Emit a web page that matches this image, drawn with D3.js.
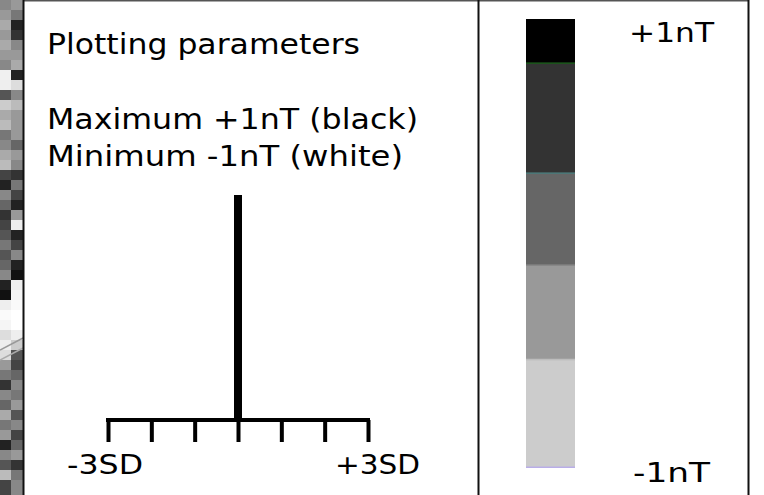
<!DOCTYPE html>
<html>
<head>
<meta charset="utf-8">
<script src="https://cdn.jsdelivr.net/npm/d3@7"></script>
<style>
  html, body { margin: 0; padding: 0; background: #fff; }
  svg { display: block; font-family: "DejaVu Sans", Verdana, sans-serif; }
</style>
</head>
<body>
<svg id="chart" width="764" height="495"></svg>
<script>
// histogram axis (in standard deviations) and the single bar at the mean
const sdTicks = [-3, -2, -1, 0, 1, 2, 3];
const sdLabels = ["-3SD", "+3SD"];
const histBins = [0];
const histCounts = [1];

// colour scale: value boundaries (nT) and fill of each band, bottom to top
const bandStops = [-1, -0.52, -0.1, 0.31, 0.8, 1];
const bandFills = ["#cccccc", "#999999", "#666666", "#333333", "#000000"];
const bandEdges = ["#b9aee8", "#bdbdbd", "#8a8a8a", "#4f7d7d", "#1d5a1d"];
const scaleLabels = ["-1nT", "+1nT"];

// text lines of the parameter panel
const titleText = "Plotting parameters";
const paramLines = ["Maximum +1nT (black)", "Minimum -1nT (white)"];

// grey levels of the map strip showing at the left edge (10px rows, two columns)
const stripLeft = ["#888","#999","#aaa","#999","#aaa","#999","#888","#f0f0f0","#eee","#555",
  "#ccc","#aaa","#bbb","#777","#888","#aaa","#bbb","#444","#222","#888",
  "#666","#333","#444","#555","#777","#555","#666","#888","#222","#111",
  "#eee","#fafafa","#f5f5f5","#ddd","#eee","#ddd","#999","#777","#333","#888",
  "#666","#aaa","#777","#999","#222","#888","#555","#bbb","#444","#444"];
const stripRight = ["#999","#777","#222","#333","#888","#999","#aaa","#222","#ddd","#888",
  "#bbb","#999","#999","#999","#666","#999","#888","#333","#777","#444",
  "#222","#999","#eee","#222","#444","#888","#222","#111","#eee","#f5f5f5",
  "#fafafa","#fff","#fff","#eee","#ccc","#555","#444","#666","#888","#777",
  "#999","#555","#888","#444","#666","#999","#333","#777","#888","#888"];

const svg = d3.select("#chart");
const W = 764, H = 495;

// Verdana-like wide text: stretch DejaVu glyphs to the width seen in the original
function label(x, y, size, width, str, anchor) {
  return svg.append("text").attr("x", x).attr("y", y)
    .attr("font-size", size).attr("fill", "#000")
    .attr("text-anchor", anchor || "start")
    .attr("textLength", width).attr("lengthAdjust", "spacingAndGlyphs")
    .text(str);
}

// map strip
const stripY = d3.scaleBand().domain(d3.range(stripLeft.length)).range([0, 500]);
const strip = svg.append("g");
strip.selectAll(".sl").data(stripLeft).enter().append("rect")
  .attr("x", 0).attr("y", (d, i) => stripY(i))
  .attr("width", 12).attr("height", stripY.bandwidth() + 0.5)
  .attr("fill", d => d);
strip.selectAll(".sr").data(stripRight).enter().append("rect")
  .attr("x", 11).attr("y", (d, i) => stripY(i))
  .attr("width", 12).attr("height", stripY.bandwidth() + 0.5)
  .attr("fill", d => d);
// the two thin road lines crossing the strip
strip.append("line").attr("x1", 0).attr("y1", 350).attr("x2", 23).attr("y2", 338)
  .attr("stroke", "#999").attr("stroke-width", 1.5);
strip.append("line").attr("x1", 0).attr("y1", 360).attr("x2", 23).attr("y2", 348)
  .attr("stroke", "#aaa").attr("stroke-width", 1.5);

// panel frame
svg.append("rect").attr("x", 23).attr("y", 0).attr("width", 725).attr("height", H)
  .attr("fill", "#fff");
svg.append("line").attr("x1", 23).attr("y1", 0.75).attr("x2", 748.5).attr("y2", 0.75)
  .attr("stroke", "#555").attr("stroke-width", 1.5);
[23.5, 478.5, 748.5].forEach(x => {
  svg.append("line").attr("x1", x).attr("y1", 0).attr("x2", x).attr("y2", H)
    .attr("stroke", "#111").attr("stroke-width", 2);
});

// texts
label(47, 54, 28, 313, titleText);
const paramWidths = [371, 356];
paramLines.forEach((t, i) => label(47, 129 + i * 37, 28, paramWidths[i], t));

// histogram
const x = d3.scaleLinear().domain([-3, 3]).range([108, 368]);
const y = d3.scaleLinear().domain([0, 1]).range([420, 195]);

svg.selectAll(".bar").data(histBins).enter().append("rect")
  .attr("x", d => x(d) - 4).attr("width", 8)
  .attr("y", (d, i) => y(histCounts[i]))
  .attr("height", (d, i) => y(0) - y(histCounts[i]))
  .attr("fill", "#000");

const axis = svg.append("g").attr("transform", `translate(0,${y(0)})`)
  .call(d3.axisBottom(x).tickValues(sdTicks).tickSize(22).tickSizeOuter(0).tickFormat(""));
axis.select(".domain").attr("stroke", "#000").attr("stroke-width", 4)
  .attr("d", `M${x(-3) - 2},0H${x(3) + 2}`);
axis.selectAll(".tick line").attr("stroke", "#000").attr("stroke-width", 4);

label(x(-3) - 41, 474, 27, 76, sdLabels[0]);
label(x(3) + 52, 474, 27, 85, sdLabels[1], "end");

// colour bar
const c = d3.scaleLinear().domain([-1, 1]).range([468, 19]);
const bands = bandFills.map((f, i) => ({ lo: bandStops[i], hi: bandStops[i + 1], fill: f, edge: bandEdges[i] }));
svg.selectAll(".band").data(bands).enter().append("rect")
  .attr("x", 526).attr("width", 49)
  .attr("y", d => c(d.hi)).attr("height", d => c(d.lo) - c(d.hi))
  .attr("fill", d => d.fill);
svg.selectAll(".edge").data(bands).enter().append("rect")
  .attr("x", 526).attr("width", 49)
  .attr("y", d => c(d.lo) - 1.5).attr("height", 1.5)
  .attr("fill", d => d.edge);

label(629, 42, 27, 85, scaleLabels[1]);
label(633, 482, 27, 77, scaleLabels[0]);
</script>
</body>
</html>
